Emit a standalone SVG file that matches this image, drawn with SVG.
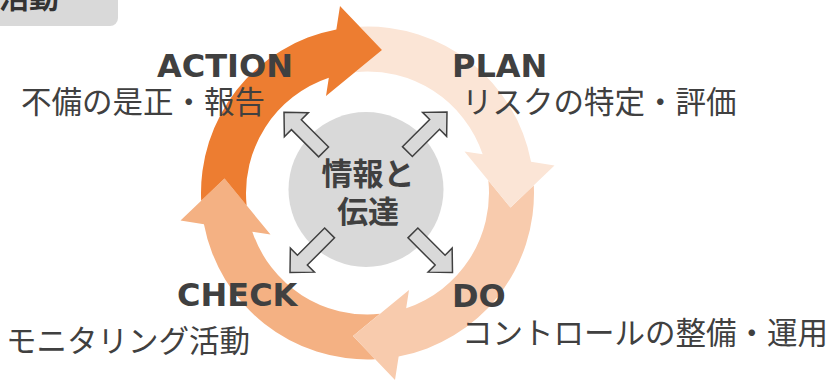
<svg xmlns="http://www.w3.org/2000/svg" xmlns:xlink="http://www.w3.org/1999/xlink" width="831" height="380" viewBox="0 0 831 380">
  <style>
    .lat { font-family: "DejaVu Sans", "Liberation Sans", sans-serif; font-weight: bold; font-size: 32px; fill: #404040; }
    .jp { font-family: "Noto Sans CJK JP", sans-serif; font-size: 30.5px; fill: #404040; }
    .ctr { font-family: "Noto Sans CJK JP", sans-serif; font-weight: bold; font-size: 31px; fill: #404040; text-anchor: middle; }
    .ba { fill: #D9D9D9; stroke: #404040; stroke-width: 1.5; stroke-linejoin: miter; }
  </style>
  <defs>
    <path id="seg" d="M -166.32 7.76 A 166.5 166.5 0 0 1 -31.15 -163.56 L -27.5 -187 L 14.5 -143 L -41.5 -97 L -38.67 -115.18 A 121.5 121.5 0 0 0 -120.86 12.45 L -143 -14.5 Z"/>
    <path id="ba" class="ba" d="M 0 0 L 17.5 -17 L 17.5 -7 L 56 -7 L 56 7 L 17.5 7 L 17.5 17 Z"/>
  </defs>

  <g id="title-tab">
    <rect x="-20" y="-20" width="138" height="46" rx="8" fill="#D9D9D9"/>
    <text x="-1" y="8" style="font-family: 'Noto Sans CJK JP', sans-serif; font-weight: bold; font-size: 30px; fill: #333333;">活動</text>
  </g>

  <g id="cycle">
    <g id="check-seg"><use xlink:href="#seg" href="#seg" fill="#F4B183" transform="translate(367.5 193) rotate(-90)"/></g>
    <g id="do-seg"><use xlink:href="#seg" href="#seg" fill="#F8CBAD" transform="translate(367.5 193) rotate(180)"/></g>
    <g id="plan-seg"><use xlink:href="#seg" href="#seg" fill="#FBE5D6" transform="translate(367.5 193) rotate(90)"/></g>
    <g id="action-seg"><use xlink:href="#seg" href="#seg" fill="#ED7D31" transform="translate(367.5 193)"/></g>
  </g>

  <g id="center">
    <circle cx="366" cy="189.5" r="77.5" fill="#D9D9D9"/>
  </g>

  <g id="connectors">
    <use xlink:href="#ba" href="#ba" transform="translate(284 112.3) rotate(45)"/>
    <use xlink:href="#ba" href="#ba" transform="translate(447 112) rotate(135)"/>
    <use xlink:href="#ba" href="#ba" transform="translate(290 272.5) rotate(-45)"/>
    <use xlink:href="#ba" href="#ba" transform="translate(452.5 272.5) rotate(-135)"/>
  </g>

  <g id="center-label">
    <text class="ctr" x="368" y="185">情報と</text>
    <text class="ctr" x="368" y="223">伝達</text>
  </g>

  <g id="action">
    <text class="lat" x="157" y="77">ACTION</text>
    <text class="jp" x="21" y="113">不備の是正・報告</text>
  </g>
  <g id="plan">
    <text class="lat" x="452" y="77">PLAN</text>
    <text class="jp" x="462" y="113">リスクの特定・評価</text>
  </g>
  <g id="check">
    <text class="lat" x="177" y="306">CHECK</text>
    <text class="jp" x="6" y="352">モニタリング活動</text>
  </g>
  <g id="do">
    <text class="lat" x="452" y="307">DO</text>
    <text class="jp" x="462" y="344">コントロールの整備・運用</text>
  </g>
</svg>
